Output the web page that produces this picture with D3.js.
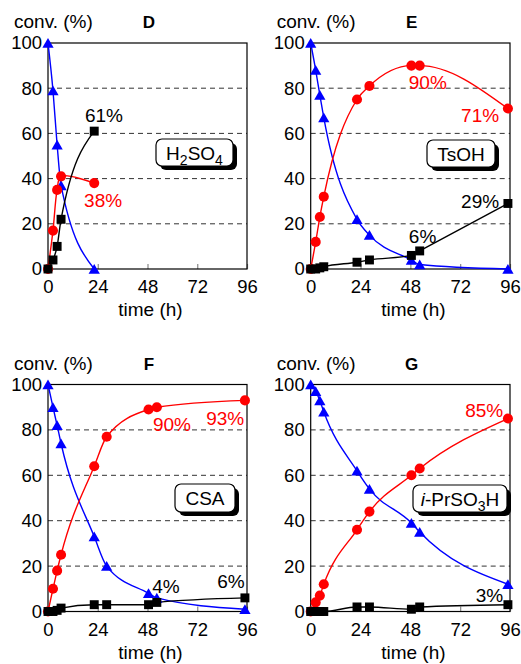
<!DOCTYPE html>
<html>
<head>
<meta charset="utf-8">
<script src="https://cdn.jsdelivr.net/npm/d3@7"></script>
<style>
  body { margin: 0; background: #fff; }
  text { font-family: "Liberation Sans", Arial, sans-serif; }
</style>
</head>
<body>
<script>
/* DATA */
const times = [0, 2.4, 4.4, 6.3, 22.3, 28.3, 48.5, 52.5, 95];
const timesD = [0, 2.4, 4.4, 6.3, 22.3];

const blueD = [100, 79, 55, 37, 0];
const redD = [0, 17, 35, 41, 38];
const blackD = [0, 4, 10, 22, 61];

const blueE = [100, 88, 77, 67, 22, 15, 4, 2, 0];
const redE = [0, 12, 23, 32, 75, 81, 90, 90, 71];
const blackE = [0, 0, 0.5, 1, 3, 4, 6, 8, 29];

const blueF = [100, 90, 82, 74, 33, 20, 8, 6, 1];
const redF = [0, 10, 18, 25, 64, 77, 89, 90, 93];
const blackF = [0, 0, 0.5, 1.5, 3, 3, 3, 4, 6];

const blueG = [100, 97, 93, 88, 62, 54, 39, 35, 12];
const redG = [0, 4, 7, 12, 36, 44, 60, 63, 85];
const blackG = [0, 0, 0, 0, 2, 2, 1, 2, 3];

const xTicks = [0, 24, 48, 72, 96];
const yTicks = [0, 20, 40, 60, 80, 100];
const gridTicks = [20, 40, 60, 80];

// end-point labels: [text, time, value, series]
const notesD = [["61%", 27, 65.2, "black"], ["38%", 26.6, 27.6, "red"]];
const notesE = [["90%", 56.4, 79.5, "red"], ["71%", 81.6, 65.2, "red"], ["29%", 81.6, 27, "black"], ["6%", 53.9, 11.5, "black"]];
const notesF = [["90%", 59.8, 79.5, "red"], ["93%", 85.5, 82.2, "red"], ["4%", 56.9, 8, "black"], ["6%", 88.3, 10.2, "black"]];
const notesG = [["85%", 83.6, 85.8, "red"], ["3%", 86.1, 4.3, "black"]];

/* LAYOUT */
const WIDTH = 521, HEIGHT = 664;
const colors = { blue: "#0000ff", red: "#ff0000", black: "#000000" };

const svg = d3.select("body").append("svg")
    .attr("width", WIDTH)
    .attr("height", HEIGHT);

const panels = [
  { letter: "D", left: 48, right: 247, top: 43, bottom: 269, t: timesD,
    blue: blueD, red: redD, black: blackD, notes: notesD, redCurve: d3.curveCatmullRom.alpha(0.5),
    box: { x: 156, y: 139, w: 77, h: 27, parts: [["H"], ["2", "sub"], ["SO"], ["4", "sub"]] } },
  { letter: "E", left: 310.7, right: 510, top: 43, bottom: 269, t: times,
    blue: blueE, red: redE, black: blackE, notes: notesE, redCurve: d3.curveMonotoneX,
    box: { x: 427, y: 140, w: 68, h: 27, parts: [["TsOH"]] } },
  { letter: "F", left: 48, right: 247, top: 384.5, bottom: 611.5, t: times,
    blue: blueF, red: redF, black: blackF, notes: notesF, redCurve: d3.curveMonotoneX,
    box: { x: 175, y: 484, w: 60, h: 28, parts: [["CSA"]] } },
  { letter: "G", left: 310.7, right: 510, top: 384.5, bottom: 611.5, t: times,
    blue: blueG, red: redG, black: blackG, notes: notesG, redCurve: d3.curveMonotoneX,
    box: { x: 413, y: 485, w: 94, h: 27, parts: [["i", "it"], ["-PrSO"], ["3", "sub"], ["H"]] } }
];

panels.forEach(function(p) {
  const g = svg.append("g");
  const x = d3.scaleLinear().domain([0, 96]).range([p.left, p.right]);
  const y = d3.scaleLinear().domain([0, 100]).range([p.bottom, p.top]);

  // dashed grid
  g.selectAll("line.grid")
    .data(gridTicks)
    .enter()
    .append("line")
    .attr("x1", p.left).attr("x2", p.right)
    .attr("y1", d => y(d)).attr("y2", d => y(d))
    .attr("stroke", "#333")
    .attr("stroke-width", 1)
    .attr("stroke-dasharray", "5,4");

  // x axis labels + small inner ticks
  const xAxis = g.append("g")
    .attr("transform", "translate(0," + p.bottom + ")")
    .call(d3.axisBottom(x).tickValues(xTicks).tickSize(-5).tickPadding(11));
  xAxis.select(".domain").remove();
  xAxis.selectAll("line").attr("stroke", "#888").attr("stroke-width", 1.2);
  xAxis.selectAll("text").attr("font-size", 18.5).attr("fill", "#000")
    .style("font-family", "'Liberation Sans', Arial, sans-serif");

  const yAxis = g.append("g")
    .attr("transform", "translate(" + p.left + ",0)")
    .call(d3.axisLeft(y).tickValues(yTicks).tickSize(0).tickPadding(6));
  yAxis.select(".domain").remove();
  yAxis.selectAll("text").attr("font-size", 18.5).attr("fill", "#000")
    .style("font-family", "'Liberation Sans', Arial, sans-serif");

  // frame
  g.append("rect")
    .attr("x", p.left).attr("y", p.top)
    .attr("width", p.right - p.left).attr("height", p.bottom - p.top)
    .attr("fill", "none")
    .attr("stroke", "#000")
    .attr("stroke-width", 1.2);

  // titles
  g.append("text")
    .attr("x", p.left - 34).attr("y", p.top - 15)
    .attr("font-size", 19)
    .text("conv. (%)");
  g.append("text")
    .attr("x", p.left + 101).attr("y", p.top - 15)
    .attr("text-anchor", "middle")
    .attr("font-size", 17)
    .attr("font-weight", "bold")
    .text(p.letter);
  g.append("text")
    .attr("x", (p.left + p.right) / 2 + 3).attr("y", p.bottom + 47)
    .attr("text-anchor", "middle")
    .attr("font-size", 19)
    .text("time (h)");

  // catalyst box with shadow
  const b = p.box;
  g.append("rect")
    .attr("x", b.x + 4).attr("y", b.y + 4)
    .attr("width", b.w).attr("height", b.h)
    .attr("rx", 6)
    .attr("fill", "#000");
  g.append("rect")
    .attr("x", b.x).attr("y", b.y)
    .attr("width", b.w).attr("height", b.h)
    .attr("rx", 6)
    .attr("fill", "#fff")
    .attr("stroke", "#000")
    .attr("stroke-width", 1.2);
  const label = g.append("text")
    .attr("x", b.x + b.w / 2).attr("y", b.y + b.h / 2 + 7)
    .attr("text-anchor", "middle")
    .attr("font-size", 19);
  b.parts.forEach(function(part, i) {
    const ts = label.append("tspan").text(part[0]);
    const afterSub = i > 0 && b.parts[i - 1][1] === "sub";
    if (part[1] === "sub") ts.attr("font-size", 14).attr("dy", 5);
    else if (part[1] === "it") ts.attr("font-style", "italic");
    else if (afterSub) ts.attr("dy", -5);
  });

  // series
  const series = [
    { key: "blue", values: p.blue, shape: d3.symbolTriangle, size: 55, curve: d3.curveMonotoneX },
    { key: "red", values: p.red, shape: d3.symbolCircle, size: 80, curve: p.redCurve },
    { key: "black", values: p.black, shape: d3.symbolSquare, size: 80, curve: d3.curveMonotoneX }
  ];

  series.forEach(function(s) {
    const pts = s.values.map((v, i) => [p.t[i], v]);
    const line = d3.line()
      .x(d => x(d[0]))
      .y(d => y(d[1]))
      .curve(s.curve);
    g.append("path")
      .attr("d", line(pts))
      .attr("fill", "none")
      .attr("stroke", colors[s.key])
      .attr("stroke-width", 1.4);
  });

  series.forEach(function(s) {
    const pts = s.values.map((v, i) => [p.t[i], v]);
    g.selectAll("path.m-" + s.key)
      .data(pts)
      .enter()
      .append("path")
      .attr("class", "m-" + s.key)
      .attr("transform", d => "translate(" + x(d[0]) + "," + (y(d[1]) + (s.key === "blue" ? 1.5 : 0)) + ")")
      .attr("d", d3.symbol().type(s.shape).size(s.size))
      .attr("fill", colors[s.key]);
  });

  // end labels
  g.selectAll("text.note")
    .data(p.notes)
    .enter()
    .append("text")
    .attr("class", "note")
    .attr("x", d => x(d[1]))
    .attr("y", d => y(d[2]))
    .attr("text-anchor", "middle")
    .attr("font-size", 19)
    .attr("fill", d => colors[d[3]])
    .text(d => d[0]);
});
</script>
</body>
</html>
